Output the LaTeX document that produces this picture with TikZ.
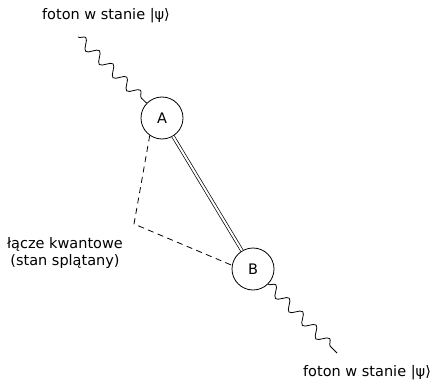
\documentclass[tikz,border=0pt]{standalone}
\usepackage{fontspec}
\setmainfont{DejaVu Sans}
\usetikzlibrary{decorations.pathmorphing}

\begin{document}
\begin{tikzpicture}[x=1pt, y=-1pt, line width=0.8pt,
  font=\fontsize{14.5}{17.5}\selectfont,
  photon/.style={circle, draw, minimum size=42pt, inner sep=0pt},
  wave/.style={decorate, decoration={snake, segment length=19pt, amplitude=5pt}},
  link/.style={dashed, dash pattern=on 6pt off 4.5pt}]
\useasboundingbox (0,0) rectangle (438,382);
% the two entangled photons
\node[photon] (A) at (162,118) {A};
\node[photon] (B) at (253,269) {B};
% free ends of the photons
\coordinate (inA) at (78,37);
\coordinate (outB) at (337,353);
\coordinate (kink) at (134,224);
% labels
\node (topl) at (106,16) {foton w stanie |ψ⟩};
\node (botl) at (367,373) {foton w stanie |ψ⟩};
\node[align=center] (linkl) at (65,253) {łącze kwantowe\\(stan splątany)};
% wavy photon paths
\draw[wave] (inA) -- (A.136);
\draw[wave] (B.-45) -- (outB);
% entanglement
\draw[double, double distance=2pt, line width=0.7pt] (A) -- (B);
\draw[link] (A.235) -- (kink) -- (B.170);
\end{tikzpicture}
\end{document}
